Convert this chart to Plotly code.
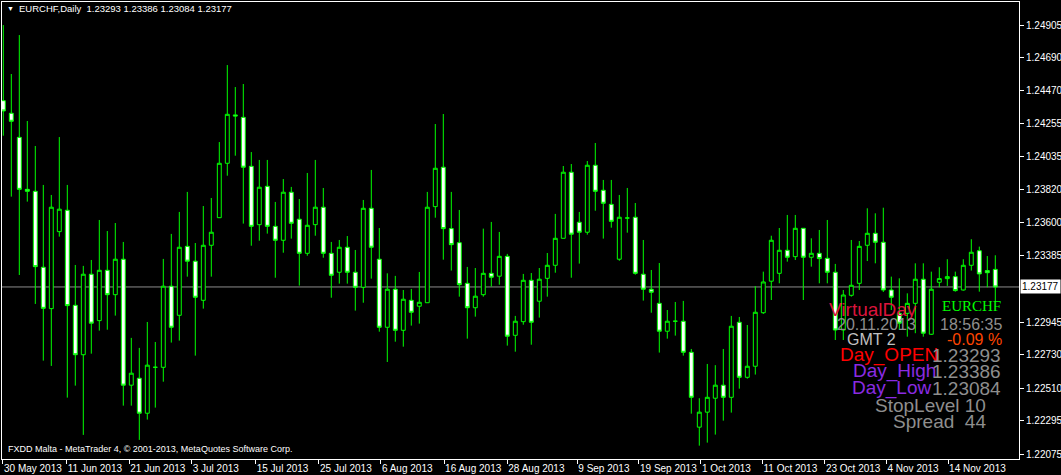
import plotly.graph_objects as go

# ---------------- data (EURCHF daily, 30 May 2013 .. 20 Nov 2013) ----------------
opens = [1.24406, 1.24323, 1.24164, 1.23821, 1.23808, 1.23307, 1.23034, 1.23542, 1.23683, 1.23056,
         1.22730, 1.23261, 1.22955, 1.23287, 1.23126, 1.23360, 1.22529, 1.22575, 1.22344, 1.22647,
         1.22647, 1.23182, 1.22990, 1.23445, 1.23347, 1.23089, 1.23452, 1.23634, 1.23993, 1.24312,
         1.24296, 1.23973, 1.23588, 1.23841, 1.23577, 1.23485, 1.23802, 1.23624, 1.23399, 1.23588,
         1.23703, 1.23399, 1.23274, 1.23439, 1.23274, 1.23175, 1.23696, 1.23360, 1.22911, 1.23162,
         1.22891, 1.23089, 1.23050, 1.23073, 1.23707, 1.23967, 1.23562, 1.23469, 1.23201, 1.23040,
         1.23126, 1.23267, 1.23248, 1.23379, 1.22858, 1.22948, 1.23221, 1.23083, 1.23234, 1.23320,
         1.23498, 1.23934, 1.23604, 1.23538, 1.23980, 1.23815, 1.23722, 1.23360, 1.23632, 1.23637,
         1.23261, 1.23162, 1.23069, 1.22885, 1.22951, 1.22951, 1.22746, 1.22252, 1.22351, 1.22443,
         1.22529, 1.22449, 1.22944, 1.22581, 1.22654, 1.23007, 1.23215, 1.23267, 1.23419, 1.23377,
         1.23564, 1.23373, 1.23399, 1.23366, 1.23274, 1.22893, 1.23122, 1.23201, 1.23452, 1.23531,
         1.23472, 1.23157, 1.23003, 1.23003, 1.23069, 1.23228, 1.22865, 1.23208, 1.23232, 1.23245,
         1.23157, 1.23320, 1.23416, 1.23285, 1.23293]

highs = [1.24905, 1.24582, 1.24839, 1.24272, 1.24107, 1.23850, 1.23784, 1.24166, 1.23850, 1.23322,
         1.23316, 1.23355, 1.23619, 1.23546, 1.23599, 1.23474, 1.22841, 1.22775, 1.22946, 1.22814,
         1.23362, 1.23527, 1.23672, 1.23804, 1.23467, 1.23711, 1.23764, 1.24133, 1.24641, 1.24496,
         1.24516, 1.24067, 1.24015, 1.24015, 1.23738, 1.23889, 1.23837, 1.23757, 1.23929, 1.24015,
         1.23830, 1.23474, 1.23487, 1.23513, 1.23421, 1.23751, 1.23949, 1.23566, 1.23267, 1.23250,
         1.23157, 1.23164, 1.23276, 1.23804, 1.24252, 1.24318, 1.23804, 1.23685, 1.23309, 1.23302,
         1.23562, 1.23606, 1.23540, 1.23395, 1.22986, 1.23263, 1.23269, 1.23302, 1.23401, 1.23659,
         1.23975, 1.23988, 1.23672, 1.24008, 1.24127, 1.23883, 1.23883, 1.23784, 1.23830, 1.23731,
         1.23487, 1.23289, 1.23335, 1.23025, 1.23078, 1.23085, 1.22768, 1.22443, 1.22669, 1.22661,
         1.22768, 1.22986, 1.22979, 1.22926, 1.23182, 1.23278, 1.23515, 1.23566, 1.23652, 1.23652,
         1.23566, 1.23498, 1.23553, 1.23619, 1.23329, 1.23157, 1.23487, 1.23480, 1.23696, 1.23663,
         1.23700, 1.23245, 1.23234, 1.23135, 1.23333, 1.23333, 1.23278, 1.23307, 1.23360, 1.23278,
         1.23360, 1.23492, 1.23443, 1.23381, 1.23386]

lows = [1.24175, 1.23773, 1.23256, 1.23740, 1.23065, 1.22691, 1.22656, 1.23509, 1.22447, 1.22526,
        1.22201, 1.22737, 1.22889, 1.22895, 1.22988, 1.22394, 1.22394, 1.22168, 1.22302, 1.22381,
        1.22552, 1.22810, 1.22823, 1.23245, 1.22724, 1.23034, 1.23245, 1.23634, 1.23911, 1.24043,
        1.23595, 1.23449, 1.23482, 1.23529, 1.23238, 1.23403, 1.23496, 1.23186, 1.23383, 1.23515,
        1.23370, 1.23106, 1.23199, 1.23199, 1.23021, 1.23073, 1.23232, 1.22882, 1.22682, 1.22816,
        1.22783, 1.22922, 1.22935, 1.23073, 1.23634, 1.23357, 1.23285, 1.23113, 1.22836, 1.22981,
        1.23113, 1.23179, 1.23192, 1.22790, 1.22750, 1.22928, 1.22796, 1.22975, 1.23113, 1.23271,
        1.23498, 1.23238, 1.23331, 1.23522, 1.23680, 1.23496, 1.23568, 1.23350, 1.23535, 1.23258,
        1.23087, 1.23007, 1.22744, 1.22836, 1.22856, 1.22724, 1.22341, 1.22130, 1.22150, 1.22203,
        1.22295, 1.22348, 1.22506, 1.22572, 1.22599, 1.22999, 1.23091, 1.23201, 1.23344, 1.23355,
        1.23091, 1.23311, 1.23201, 1.23201, 1.22827, 1.22827, 1.23113, 1.23157, 1.23348, 1.23333,
        1.23144, 1.23025, 1.22893, 1.22849, 1.22872, 1.22849, 1.22860, 1.23175, 1.23184, 1.23146,
        1.23153, 1.23285, 1.23146, 1.23175, 1.23084]

closes = [1.24338, 1.24270, 1.23821, 1.23808, 1.23311, 1.23036, 1.23703, 1.23690, 1.23054, 1.22730,
          1.23261, 1.22938, 1.23287, 1.23126, 1.23360, 1.22529, 1.22608, 1.22344, 1.22661, 1.22647,
          1.23182, 1.22911, 1.23439, 1.23347, 1.23109, 1.23452, 1.23538, 1.23993, 1.24316, 1.24305,
          1.23967, 1.23577, 1.23835, 1.23577, 1.23485, 1.23802, 1.23597, 1.23399, 1.23584, 1.23703,
          1.23399, 1.23254, 1.23439, 1.23274, 1.23175, 1.23696, 1.23439, 1.22911, 1.23162, 1.22891,
          1.23096, 1.23010, 1.23076, 1.23703, 1.23960, 1.23562, 1.23456, 1.23192, 1.23040, 1.23116,
          1.23267, 1.23241, 1.23379, 1.22852, 1.22951, 1.23221, 1.22944, 1.23228, 1.23320, 1.23498,
          1.23934, 1.23525, 1.23538, 1.23980, 1.23808, 1.23729, 1.23610, 1.23637, 1.23632, 1.23267,
          1.23162, 1.23142, 1.22885, 1.22951, 1.22951, 1.22746, 1.22449, 1.22351, 1.22449, 1.22529,
          1.22449, 1.22918, 1.22581, 1.22654, 1.23010, 1.23210, 1.23485, 1.23419, 1.23373, 1.23564,
          1.23373, 1.23399, 1.23364, 1.23274, 1.22893, 1.23124, 1.23188, 1.23445, 1.23531, 1.23472,
          1.23157, 1.23109, 1.22938, 1.23069, 1.23228, 1.22872, 1.23162, 1.23232, 1.23245, 1.23153,
          1.23320, 1.23406, 1.23263, 1.23271, 1.23177]

date_labels = ["30 May 2013", "11 Jun 2013", "21 Jun 2013", "3 Jul 2013", "15 Jul 2013",
               "25 Jul 2013", "6 Aug 2013", "16 Aug 2013", "28 Aug 2013", "9 Sep 2013",
               "19 Sep 2013", "1 Oct 2013", "11 Oct 2013", "23 Oct 2013", "4 Nov 2013",
               "14 Nov 2013"]

price_ticks = [1.24905, 1.24690, 1.24470, 1.24255, 1.24035, 1.23820, 1.23600, 1.23385,
               1.22945, 1.22730, 1.22510, 1.22295, 1.22075]

symbol = "EURCHF"
period = "Daily"
broker_text = "FXDD Malta - MetaTrader 4, \u00a9 2001-2013, MetaQuotes Software Corp."
server_date = "20.11.2013"
server_time = "18:56:35"
gmt_offset = 2
stop_level = 10
spread = 44

# ---------------- layout helpers ----------------
W, H = 1061, 475
ML, MR, MT, MB = 2, 42, 2, 16
PW, PH = W - ML - MR, H - MT - MB
# date tick positions along the bar axis (as drawn by the terminal)
tick_pos = [-0.04, 7.93, 15.75, 23.55, 31.55, 39.46, 47.2, 55.1, 63.0, 71.75,
            79.46, 87.2, 94.9, 102.7, 110.4, 118.1]


def px(xp):
    return (xp - ML) / PW


def py(yp):
    return (H - MB - yp) / PH


bars = list(range(len(opens)))
GREEN = "#00FF00"

fig = go.Figure(go.Candlestick(
    x=bars, open=opens, high=highs, low=lows, close=closes,
    increasing=dict(line=dict(color=GREEN, width=1), fillcolor="#000000"),
    decreasing=dict(line=dict(color=GREEN, width=1), fillcolor="#FFFFFF"),
    whiskerwidth=0, hoverinfo="skip", showlegend=False,
))

last_o, last_h, last_l, last_c = opens[-1], highs[-1], lows[-1], closes[-1]

fig.add_shape(type="line", xref="paper", x0=0, x1=1, yref="y", y0=last_c, y1=last_c,
              line=dict(color="#8C8C8C", width=1), layer="below")

AR = "Liberation Sans, Arial, sans-serif"
ann = []
# header
ann.append(dict(x=px(5), y=py(9), xanchor="left", yanchor="middle", text="\u25BC",
                font=dict(size=7, color="white", family=AR)))
ann.append(dict(x=px(17), y=py(9), xanchor="left", yanchor="middle",
                text=f"{symbol},{period}&nbsp; {last_o:.5f} {last_h:.5f} {last_l:.5f} {last_c:.5f}",
                font=dict(size=9.5, color="white", family=AR)))
ann.append(dict(x=px(6), y=py(449), xanchor="left", yanchor="middle", text=broker_text,
                font=dict(size=9.0, color="white", family=AR)))
# bid price label on the axis
ann.append(dict(x=1, xref="paper", xanchor="left", xshift=1, y=last_c, yref="y", yanchor="middle",
                text=f"{last_c:.5f}", bgcolor="white", borderpad=1,
                font=dict(size=10, color="black", family=AR)))

# indicator panel
GRAY = "#8E8E8E"
chg = (last_c - last_o) / last_o * 100
panel = [
    ("VirtualDay", 919, 309, "right", 19, "#DC143C", AR),
    (symbol, 940, 306, "left", 15, "#00FF00", "Liberation Serif, Times New Roman, serif"),
    (server_date, 918, 324, "right", 16, GRAY, AR),
    (server_time, 1004, 324, "right", 16, GRAY, AR),
    (f"GMT {gmt_offset}", 898, 339, "right", 16, "#C0C0C0", AR),
    (f"{chg:.2f} %", 1004, 339, "right", 16, "#FF4500", AR),
    ("Day_OPEN", 940, 355, "right", 19, "#FF0000", AR),
    (f"{last_o:.5f}", 1003, 355, "right", 19, GRAY, AR),
    ("Day_High", 938, 371, "right", 19, "#8A2BE2", AR),
    (f"{last_h:.5f}", 1003, 371, "right", 19, GRAY, AR),
    ("Day_Low", 933, 388, "right", 19, "#8A2BE2", AR),
    (f"{last_l:.5f}", 1003, 388, "right", 19, GRAY, AR),
    (f"StopLevel {stop_level}", 988, 405, "right", 19, GRAY, AR),
    (f"Spread  {spread}", 988, 421, "right", 19, GRAY, AR),
]
for text, xp, yp, anc, size, col, fam in panel:
    ann.append(dict(x=px(xp), y=py(yp), xanchor=anc, yanchor="middle", text=text.replace("  ", "&nbsp; "),
                    font=dict(size=size, color=col, family=fam)))

for a in ann:
    a.setdefault("xref", "paper")
    a.setdefault("yref", "paper")
    a["showarrow"] = False

# plot range mapped to the terminal's pixel grid (8 px per bar)
x0 = (ML - 3.3) / 8
x1 = (W - MR - 3.3) / 8

fig.update_layout(
    width=W, height=H,
    margin=dict(l=ML, r=MR, t=MT, b=MB, pad=0, autoexpand=False),
    paper_bgcolor="black", plot_bgcolor="black",
    showlegend=False,
    font=dict(family=AR, color="white", size=10),
    annotations=ann,
    xaxis=dict(range=[x0, x1], rangeslider=dict(visible=False), showgrid=False, zeroline=False,
               showline=True, linecolor="white", linewidth=1, mirror=True, automargin=False,
               ticks="outside", ticklen=4, tickcolor="white", tickwidth=1, tickangle=0,
               tickmode="array", tickvals=tick_pos, ticktext=date_labels,
               ticklabelposition="outside right", tickfont=dict(size=10, color="white", family=AR)),
    yaxis=dict(side="right", range=[1.22042, 1.25057], showgrid=False, zeroline=False,
               showline=True, linecolor="white", linewidth=1, mirror=True, automargin=False,
               ticks="outside", ticklen=4, tickcolor="white", tickwidth=1,
               tickmode="array", tickvals=price_ticks, tickformat=".5f",
               tickfont=dict(size=10, color="white", family=AR)),
)

fig.write_html("out.html", config={"displayModeBar": False},
               post_script="document.body.style.margin='0';document.body.style.overflow='hidden';")
